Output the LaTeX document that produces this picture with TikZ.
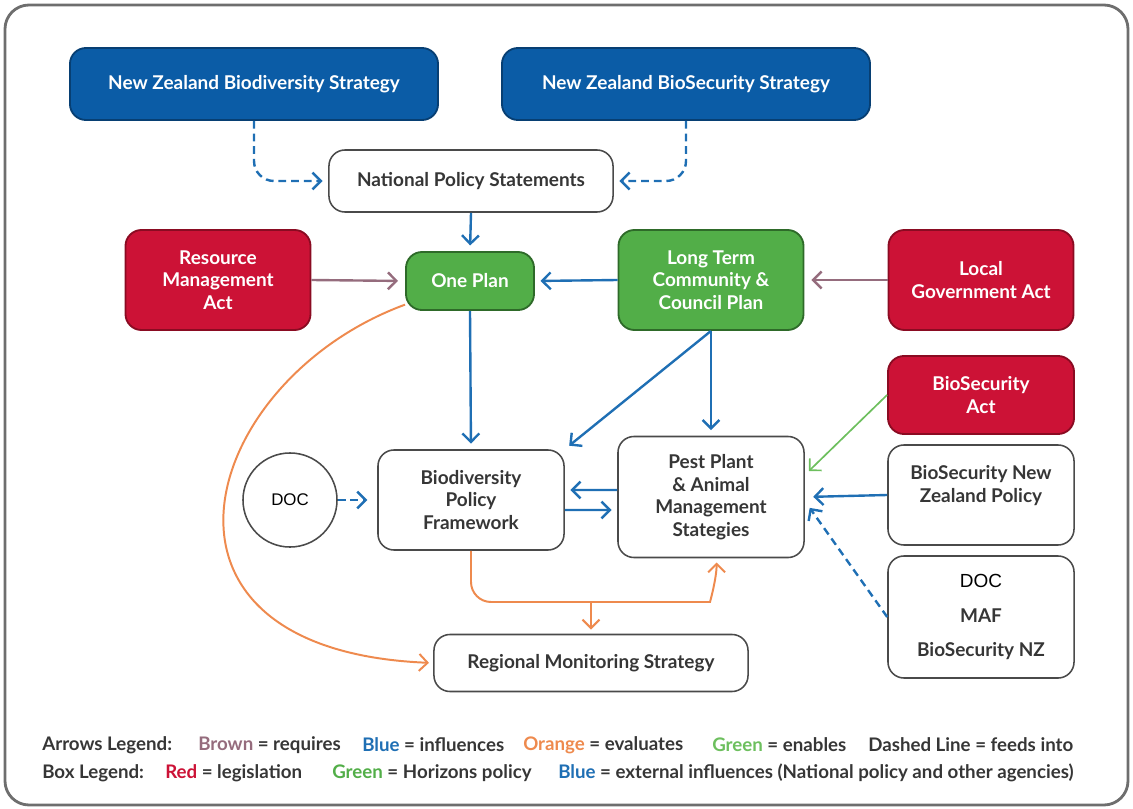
\documentclass[tikz,border=0pt]{standalone}
\usepackage{fontspec}
\setmainfont{Lato}
\newfontfamily\arialfont{Liberation Sans}
\usetikzlibrary{arrows.meta}

\definecolor{nzblue}{HTML}{0B5CA6}
\definecolor{nzbluedark}{HTML}{073F73}
\definecolor{lawred}{HTML}{CC1236}
\definecolor{lawreddark}{HTML}{8A0B22}
\definecolor{hzgreen}{HTML}{52AE48}
\definecolor{hzgreendark}{HTML}{2E6A29}
\definecolor{boxgray}{HTML}{4A4A4A}
\definecolor{textgray}{HTML}{363636}
\definecolor{framegray}{HTML}{6E6E6E}
\definecolor{arrowblue}{HTML}{1F6FB4}
\definecolor{arrowbrown}{HTML}{956C7D}
\definecolor{arroworange}{HTML}{EE8A4E}
\definecolor{arrowgreen}{HTML}{6DBF5E}

\tikzset{
  >={Straight Barb[length=6pt,width=12pt]},
  box/.style={rounded corners=0.4cm, align=center, inner sep=2pt,
    font=\bfseries\fontsize{13.5}{16}\selectfont, line width=1.3pt},
  extbox/.style={box, fill=nzblue, draw=nzbluedark, text=white},
  lawbox/.style={box, fill=lawred, draw=lawreddark, text=white},
  hzbox/.style={box, fill=hzgreen, draw=hzgreendark, text=white},
  plainbox/.style={box, fill=white, draw=boxgray, text=textgray, line width=1.1pt},
  influences/.style={->, draw=arrowblue, line width=1.7pt, shorten >=4pt},
  requires/.style={->, draw=arrowbrown, line width=1.7pt, shorten >=5pt},
  evaluates/.style={->, draw=arroworange, line width=1.4pt, shorten >=3pt},
  enables/.style={->, draw=arrowgreen, line width=1.2pt, shorten >=4pt},
  feeds/.style={influences, dash pattern=on 5.5pt off 3.5pt},
  legend/.style={anchor=west, inner sep=0pt, text=textgray,
    font=\bfseries\fontsize{13.3}{16}\selectfont},
}

\begin{document}
\begin{tikzpicture}[x=0.025cm, y=-0.025cm]
  \useasboundingbox (0,0) rectangle (1133,809);

  % Cornice
  \draw[framegray, line width=2pt, rounded corners=0.6cm] (5,5) rectangle (1128,805);

  % Strategie nazionali
  \node[extbox, minimum width=9.2cm, minimum height=1.8cm] (bioStrat) at (254,84) {New Zealand Biodiversity Strategy};
  \node[extbox, minimum width=9.2cm, minimum height=1.8cm] (secStrat) at (686,84) {New Zealand BioSecurity Strategy};
  \node[plainbox, minimum width=7.1cm, minimum height=1.55cm] (nps) at (471,181) {National Policy Statements};

  % Leggi e piani
  \node[lawbox, minimum width=4.625cm, minimum height=2.5cm] (rma) at (218,280) {Resource\\Management\\Act};
  \node[hzbox, minimum width=3.2cm, minimum height=1.45cm] (onePlan) at (470,281) {One Plan};
  \node[hzbox, minimum width=4.625cm, minimum height=2.5cm] (ltccp) at (711,280) {Long Term\\Community \&\\Council Plan};
  \node[lawbox, minimum width=4.625cm, minimum height=2.5cm] (lga) at (981,280) {Local\\Government Act};

  % Strategie operative
  \node[draw=boxgray, line width=1.1pt, circle, minimum size=2.35cm, font=\arialfont\fontsize{12}{14}\selectfont] (doc) at (290,500) {DOC};
  \node[plainbox, minimum width=4.65cm, minimum height=2.5cm] (bpf) at (471,500) {Biodiversity\\Policy\\Framework};
  \node[plainbox, minimum width=4.65cm, minimum height=3.025cm] (pest) at (711,497) {Pest Plant\\\& Animal\\Management\\Stategies};
  \node[plainbox, minimum width=7.85cm, minimum height=1.425cm] (rms) at (591,663) {Regional Monitoring Strategy};

  % Biosicurezza
  \node[lawbox, minimum width=4.65cm, minimum height=1.95cm] (bsa) at (981,395) {BioSecurity\\Act};
  \node[plainbox, minimum width=4.65cm, minimum height=2.5cm] (bnzp) at (981,495) {BioSecurity New\\Zealand Policy\\\mbox{}};
  \node[plainbox, minimum width=4.65cm, minimum height=3.05cm] (others) at (981,617) {{\arialfont\mdseries\color{black}DOC}\\[0.29cm]MAF\\[0.29cm]BioSecurity NZ};

  % Frecce tratteggiate (alimenta)
  \draw[feeds, rounded corners=0.5cm] (bioStrat.south) |- (nps.west);
  \draw[feeds, rounded corners=0.5cm] (secStrat.south) |- (nps.east);
  \draw[feeds, shorten >=7pt] (doc.east) -- (bpf.west);
  \draw[feeds, shorten >=6pt] (others.west) -- ([yshift=-0.1cm]pest.east);

  % Frecce marroni (richiede)
  \draw[requires] (rma.east) -- (onePlan.west);
  \draw[requires] (lga.west) -- (ltccp.east);

  % Frecce blu (influenza)
  \draw[influences] (nps.south) -- (onePlan.north);
  \draw[influences] (ltccp.west) -- (onePlan.east);
  \draw[influences] (onePlan.south) -- (bpf.north);
  \draw[influences] (ltccp.south) -- (pest.north);
  \draw[influences] (ltccp.south) -- (bpf.north east);
  \draw[influences] ([yshift=0.175cm]pest.west) -- ([yshift=0.25cm]bpf.east);
  \draw[influences] ([yshift=-0.25cm]bpf.east) -- ([yshift=-0.325cm]pest.west);
  \draw[influences, shorten >=6pt] (bnzp.west) -- (pest.east);

  % Freccia verde (abilita)
  \draw[enables] (bsa.west) -- ([yshift=0.55cm]pest.east);

  % Frecce arancioni (valuta)
  \draw[evaluates] (onePlan.200) .. controls (200,380) and (120,650) .. (rms.west);
  \draw[evaluates, rounded corners=0.5cm] (bpf.south) |- (690,602) to[out=0, in=-90] ([xshift=4pt]pest.south);
  \draw[evaluates] (rms.north |- 0,602) -- (rms.north);

  % Legenda
  \node[legend] (legArrows) at (42,745) {Arrows Legend:};
  \node[legend] (legBrown) at (198,745) {\textcolor{arrowbrown}{Brown} = requires};
  \node[legend] (legBlue) at (362,745) {\textcolor{arrowblue}{Blue} = influences};
  \node[legend] (legOrange) at (523,745) {\textcolor{arroworange}{Orange} = evaluates};
  \node[legend] (legGreen) at (712,745) {\textcolor{arrowgreen}{Green} = enables};
  \node[legend] (legDashed) at (868,745) {Dashed Line = feeds into};
  \node[legend] (legBox) at (42,773) {Box Legend:};
  \node[legend] (legRed) at (165,773) {\textcolor{lawred}{Red} = legislation};
  \node[legend] (legHz) at (332,773) {\textcolor{hzgreen}{Green} = Horizons policy};
  \node[legend] (legExt) at (558,773) {\textcolor{arrowblue}{Blue} = external influences (National policy and other agencies)};
\end{tikzpicture}
\end{document}
